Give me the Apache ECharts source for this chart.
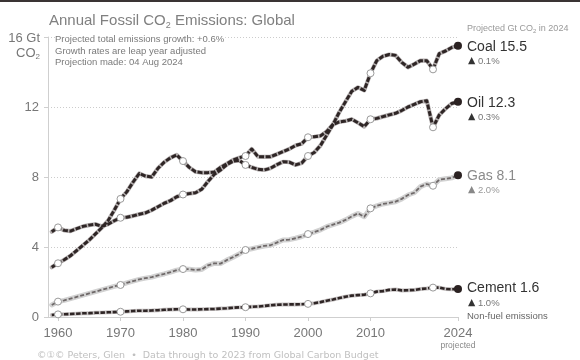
<!DOCTYPE html>
<html>
<head>
<meta charset="utf-8">
<script src="https://cdn.jsdelivr.net/npm/echarts@6/dist/echarts.min.js"></script>
<style>
html,body{margin:0;padding:0;background:#fff;}
#chart{width:580px;height:360px;}
</style>
</head>
<body>
<div id="chart"></div>
<script>
const years = [1959,1960,1961,1962,1963,1964,1965,1966,1967,1968,1969,1970,1971,1972,1973,1974,1975,1976,1977,1978,1979,1980,1981,1982,1983,1984,1985,1986,1987,1988,1989,1990,1991,1992,1993,1994,1995,1996,1997,1998,1999,2000,2001,2002,2003,2004,2005,2006,2007,2008,2009,2010,2011,2012,2013,2014,2015,2016,2017,2018,2019,2020,2021,2022,2023,2024];

const coal = [4.87,5.12,4.95,4.91,5.05,5.18,5.25,5.30,5.18,5.30,5.50,5.67,5.70,5.78,5.87,5.95,6.11,6.30,6.50,6.65,6.87,7.00,7.05,7.10,7.30,7.75,8.15,8.40,8.70,8.90,8.95,8.69,8.55,8.44,8.40,8.50,8.70,8.87,8.85,8.69,8.80,9.20,9.40,9.80,10.40,11.00,11.70,12.30,12.90,13.12,12.95,13.93,14.65,14.90,15.00,14.95,14.55,14.27,14.45,14.65,14.65,14.15,15.05,15.20,15.40,15.50];

const oil = [2.84,3.07,3.27,3.50,3.80,4.10,4.40,4.75,5.10,5.50,6.10,6.75,7.15,7.70,8.20,8.05,8.00,8.50,8.85,9.10,9.26,8.91,8.55,8.30,8.25,8.25,8.28,8.55,8.75,8.97,9.10,9.20,9.60,9.16,9.15,9.16,9.30,9.45,9.60,9.80,9.90,10.27,10.30,10.35,10.60,11.00,11.15,11.20,11.30,11.10,10.88,11.30,11.35,11.45,11.55,11.64,11.80,12.00,12.15,12.30,12.36,10.84,11.54,11.90,12.20,12.30];

const gas = [0.69,0.88,0.95,1.05,1.15,1.25,1.35,1.45,1.55,1.65,1.75,1.83,1.95,2.05,2.15,2.22,2.28,2.38,2.46,2.56,2.68,2.74,2.73,2.69,2.72,2.95,3.07,3.05,3.25,3.42,3.60,3.83,3.90,3.98,4.06,4.10,4.25,4.40,4.42,4.50,4.60,4.74,4.85,4.98,5.16,5.28,5.39,5.55,5.75,5.92,5.73,6.21,6.35,6.46,6.52,6.59,6.75,6.97,7.10,7.45,7.60,7.50,7.85,7.90,7.95,8.10];

const cement = [0.11,0.15,0.16,0.17,0.19,0.21,0.22,0.24,0.25,0.27,0.28,0.30,0.32,0.34,0.36,0.36,0.37,0.39,0.41,0.43,0.44,0.44,0.43,0.43,0.44,0.45,0.46,0.48,0.50,0.53,0.55,0.56,0.58,0.60,0.63,0.67,0.70,0.71,0.72,0.72,0.73,0.75,0.79,0.85,0.93,1.00,1.08,1.16,1.22,1.25,1.27,1.35,1.45,1.48,1.55,1.57,1.52,1.53,1.54,1.60,1.63,1.68,1.68,1.60,1.58,1.60];

const growth = {Coal:'0.1%', Oil:'0.3%', Gas:'2.0%', Cement:'1.0%'};
const markerYears = [1960,1970,1980,1990,2000,2010,2020];
const projYear = 2024;
const xLabelValues = [1960,1970,1980,1990,2000,2010,2024];
const yTicks = [0,4,8,12,16];

const fuels = [
  {name:'Coal', data:coal, base:'#b5b0b0', baseW:4.2, top:'#2e2525', topW:3, dash:[5,1.6]},
  {name:'Oil', data:oil, base:'#b5b0b0', baseW:4.2, top:'#2e2525', topW:3, dash:[5,1.6]},
  {name:'Gas', data:gas, base:'#d2d2d2', baseW:5, top:'#6e6868', topW:1.8, dash:[4,2]},
  {name:'Cement', data:cement, base:'#c8c4c4', baseW:4, top:'#2e2525', topW:2.6, dash:[4.5,1.6]}
];

function pts(vals){ return years.map((y,i)=>[y, vals[i]]); }
function markedPts(vals){
  return years.map((y,i)=>{
    if (y === projYear) return {value:[y,vals[i]], symbol:'circle', symbolSize:8, itemStyle:{color:'#2b2222', borderColor:'#2b2222', borderWidth:0}};
    if (markerYears.indexOf(y) >= 0) return {value:[y,vals[i]], symbol:'circle', symbolSize:7, itemStyle:{color:'#ffffff', borderColor:'#9a9a9a', borderWidth:1}};
    return {value:[y,vals[i]], symbol:'none'};
  });
}

const series = [];
fuels.forEach(f=>{
  series.push({type:'line', data:pts(f.data), showSymbol:false, silent:true, z:2,
    lineStyle:{color:f.base, width:f.baseW, cap:'round', join:'round'}, animation:false});
  series.push({type:'line', data:markedPts(f.data), showSymbol:true, showAllSymbol:true, z:3,
    lineStyle:{color:f.top, width:f.topW, type:f.dash, join:'round'}, animation:false});
});

const FF = '"Liberation Sans", Arial, Helvetica, sans-serif';
const graphics = [
  {type:'rect', shape:{x:0,y:0,width:580,height:2}, style:{fill:'#3a3434'}, z:100},
  {type:'text', x:49, y:21, z:100, style:{text:'Annual Fossil CO{s|2} Emissions: Global', fill:'#808080', fontSize:15, fontFamily:FF, verticalAlign:'middle',
    rich:{s:{fontSize:9, fill:'#808080', fontFamily:FF, padding:[9,0,0,0]}}}},
  {type:'text', x:55, y:39, z:100, style:{text:'Projected total emissions growth: +0.6%', fill:'#7a7a7a', fontSize:9.5, fontFamily:FF, verticalAlign:'middle', backgroundColor:'#fff', padding:[1,1,1,0]}},
  {type:'text', x:55, y:51, z:100, style:{text:'Growth rates are leap year adjusted', fill:'#7a7a7a', fontSize:9.5, fontFamily:FF, verticalAlign:'middle'}},
  {type:'text', x:55, y:62, z:100, style:{text:'Projection made: 04 Aug 2024', fill:'#7a7a7a', fontSize:9.5, fontFamily:FF, verticalAlign:'middle'}},
  {type:'text', x:40, y:38, z:100, style:{text:'16 Gt', fill:'#777', fontSize:13, fontFamily:FF, align:'right', verticalAlign:'middle'}},
  {type:'text', x:40, y:53, z:100, style:{text:'CO{s|2}', fill:'#777', fontSize:13, fontFamily:FF, align:'right', verticalAlign:'middle',
    rich:{s:{fontSize:8, fill:'#777', fontFamily:FF, padding:[8,0,0,0]}}}},
  {type:'text', x:467, y:29, z:100, style:{text:'Projected Gt CO{s|2} in 2024', fill:'#999', fontSize:9, fontFamily:FF, verticalAlign:'middle',
    rich:{s:{fontSize:6, fill:'#999', fontFamily:FF, padding:[4,0,0,0]}}}},
  {type:'text', x:467, y:316, z:100, style:{text:'Non-fuel emissions', fill:'#666', fontSize:9.5, fontFamily:FF, verticalAlign:'middle'}},
  {type:'text', x:458, y:346, z:100, style:{text:'projected', fill:'#888', fontSize:8.5, fontFamily:FF, align:'center', verticalAlign:'middle'}},
  {type:'text', x:37, y:356, z:100, style:{text:'©①© Peters, Glen  •  Data through to 2023 from Global Carbon Budget', fill:'#c0c0c0', fontSize:9.5, fontFamily:'"DejaVu Sans", ' + FF, verticalAlign:'middle'}}
];
const labelY = {Coal:[47,61], Oil:[103,117], Gas:[176,190], Cement:[288,303]};
fuels.forEach(f=>{
  const last = f.data[f.data.length-1];
  const isGas = f.name === 'Gas';
  graphics.push({type:'text', x:467, y:labelY[f.name][0], z:100, style:{text:f.name + ' ' + last.toFixed(1), fill:isGas?'#8a8a8a':'#333', fontSize:14, fontFamily:FF, verticalAlign:'middle'}});
  graphics.push({type:'text', x:468, y:labelY[f.name][1], z:100, style:{text:'{t|▲} ' + growth[f.name], fill:isGas?'#999':'#777', fontSize:9.5, fontFamily:FF, verticalAlign:'middle',
    rich:{t:{fill:isGas?'#888':'#333', fontSize:9.5, fontFamily:'"DejaVu Sans", ' + FF}}}});
});

const chart = echarts.init(document.getElementById('chart'), null, {renderer:'canvas'});
chart.setOption({
  backgroundColor:'#ffffff',
  animation:false,
  grid:{left:48, right:122, top:37, bottom:43, containLabel:false},
  xAxis:{type:'value', min:1958.4, max:2024,
    axisLine:{show:true, lineStyle:{color:'#cfcfcf', width:1}},
    axisTick:{show:true, length:4, lineStyle:{color:'#cfcfcf'}, customValues:xLabelValues},
    axisLabel:{color:'#777', fontSize:13, fontFamily:FF, margin:10, customValues:xLabelValues, formatter:v=>String(v)},
    splitLine:{show:false}},
  yAxis:{type:'value', min:0, max:16, interval:4,
    axisLine:{show:true, lineStyle:{color:'#cfcfcf', width:1}},
    axisTick:{show:true, length:4, lineStyle:{color:'#cfcfcf'}},
    axisLabel:{color:'#777', fontSize:13, fontFamily:FF, margin:9, formatter:v=>(v===16?'':String(v))},
    splitLine:{show:true, lineStyle:{color:'#cccccc', type:[1,2], width:1}}},
  series:series,
  graphic:graphics
});
</script>
</body>
</html>
